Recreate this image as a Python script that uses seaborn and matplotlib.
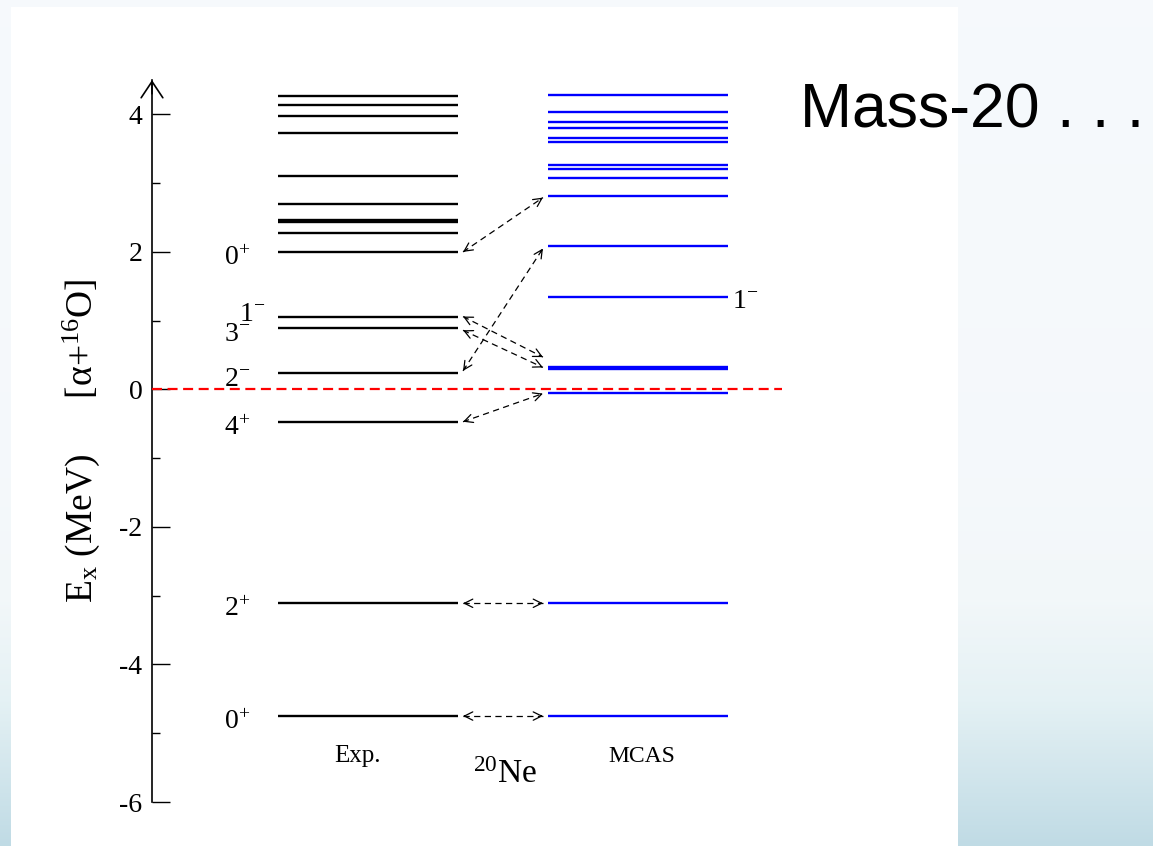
import numpy as np
import matplotlib
matplotlib.use('Agg')
import matplotlib.pyplot as plt
import seaborn as sns
from matplotlib.patches import Rectangle

# level energies (MeV, relative to the alpha + 16O threshold)
exp_levels = [-4.75, -3.11, -0.48, 0.24, 0.89, 1.05, 2.00, 2.27, 2.43, 2.46,
              2.69, 3.11, 3.73, 3.97, 4.13, 4.27]
mcas_levels = [-4.75, -3.11, -0.05, 0.30, 0.33, 1.34, 2.08, 2.82, 3.08, 3.20,
               3.26, 3.60, 3.66, 3.80, 3.89, 4.03, 4.28]

# spin-parity labels
exp_spins = ['0^{+}', '2^{+}', '4^{+}', '2^{-}', '3^{-}', '1^{-}', '0^{+}']
exp_spin_energies = [-4.75, -3.11, -0.48, 0.24, 0.89, 1.05, 2.00]
mcas_spins = ['1^{-}']
mcas_spin_energies = [1.34]

# correspondence arrows: exp end -> mcas end
link_exp = [2.00, 0.27, 1.06, 0.86, -0.47, -3.11, -4.75]
link_mcas = [2.79, 2.05, 0.47, 0.32, -0.06, -3.11, -4.75]

columns = ['Exp.', 'MCAS']
nucleus = '$^{20}$Ne'
yticks = [-6, -4, -2, 0, 2, 4]
ytick_labels = ['-6', '-4', '-2', '0', '2', '4']

sns.set_theme(style='ticks')
plt.rcParams['font.family'] = ['Liberation Serif', 'DejaVu Serif']
plt.rcParams['mathtext.fontset'] = 'custom'
plt.rcParams['mathtext.rm'] = 'Liberation Serif'
plt.rcParams['mathtext.it'] = 'Liberation Serif:italic'
plt.rcParams['mathtext.default'] = 'regular'
plt.rcParams['axes.unicode_minus'] = False
plt.rcParams['text.color'] = 'black'
plt.rcParams['axes.labelcolor'] = 'black'
plt.rcParams['ytick.color'] = 'black'

W, H = 1153, 846
fig = plt.figure(figsize=(W / 100, H / 100), dpi=100)

# slide background: pale blue gradient with a white panel
bg = fig.add_axes([0, 0, 1, 1], zorder=-2)
t = np.linspace(0, 1, 400)
stops = [0.0, 0.55, 0.71, 0.83, 1.0]
r = np.interp(t, stops, [0.965, 0.960, 0.950, 0.895, 0.753])
g = np.interp(t, stops, [0.980, 0.975, 0.970, 0.945, 0.859])
b = np.interp(t, stops, [0.990, 0.985, 0.978, 0.957, 0.898])
grad = np.stack([r, g, b], axis=1)[:, None, :].repeat(2, axis=1)
bg.imshow(grad, aspect='auto', extent=[0, 1, 0, 1], origin='upper')
bg.add_patch(Rectangle((11 / W, 0), 947 / W, 1 - 7 / H, facecolor='white',
                       edgecolor='none'))
bg.set_xlim(0, 1)
bg.set_ylim(0, 1)
bg.axis('off')

ax = fig.add_axes([152 / W, 1 - 802 / H, 630 / W, 722 / H])
ax.patch.set_alpha(0)
ax.set_xlim(0, 3.5)
ax.set_ylim(-6, 4.5)
sns.despine(ax=ax, bottom=True)
ax.spines['left'].set_linewidth(1.2)
ax.spines['left'].set_color('black')

ax.set_xticks([])
ax.set_yticks(yticks)
ax.set_yticklabels(ytick_labels)
ax.set_yticks(np.arange(-5, 5, 2), minor=True)
ax.tick_params(axis='y', which='major', direction='in', length=13, width=1,
               labelsize=20, pad=7, colors='black')
ax.tick_params(axis='y', which='minor', direction='in', length=6, width=1,
               colors='black')

# arrow head on top of the energy axis
ax.annotate('', xy=(0, 4.5), xytext=(0, 4.3),
            arrowprops=dict(arrowstyle='->,head_length=0.45,head_width=0.3',
                            lw=1.2, color='black', mutation_scale=26,
                            shrinkA=0, shrinkB=0), annotation_clip=False)

# levels
ax.hlines(exp_levels, 0.7, 1.7, color='black', lw=1.7)
ax.hlines(mcas_levels, 2.2, 3.2, color='blue', lw=1.7)

# threshold
ax.axhline(0, color='red', lw=1.6, ls=(0, (4.5, 2.5)), zorder=3)

# correspondence arrows
xa, xb = 1.728, 2.172
for e0, e1 in zip(link_exp, link_mcas):
    ax.plot([xa, xb], [e0, e1], color='black', lw=0.9, ls=(0, (5, 3.5)))
    for (x0, y0), (x1, y1) in [((xa, e0), (xb, e1)), ((xb, e1), (xa, e0))]:
        ax.annotate('', xy=(x0, y0),
                    xytext=(x0 + 0.03 * (x1 - x0), y0 + 0.03 * (y1 - y0)),
                    arrowprops=dict(arrowstyle='->', lw=0.9, color='black',
                                    mutation_scale=15, shrinkA=0, shrinkB=0))

# spin labels
for i, (s, e) in enumerate(zip(exp_spins, exp_spin_energies)):
    if i > 0 and e - exp_spin_energies[i - 1] < 0.3:
        ax.text(0.63, e - 0.05, '$' + s + '$', fontsize=20, ha='right',
                va='baseline')
    else:
        ax.text(0.546, e - 0.19, '$' + s + '$', fontsize=20, ha='right',
                va='baseline')
for s, e in zip(mcas_spins, mcas_spin_energies):
    ax.text(3.222, e - 0.15, '$' + s + '$', fontsize=20, ha='left',
            va='baseline')

# column names
ax.text(1.14, -5.42, columns[0], fontsize=18, ha='center', va='baseline')
ax.text(2.72, -5.42, columns[1], fontsize=17, ha='center', va='baseline')
ax.text(1.96, -5.73, nucleus, fontsize=24, ha='center', va='baseline')

ax.set_ylabel('E$_x$ (MeV)      [α+$^{16}$O]', fontsize=27)
ax.yaxis.set_label_coords(-0.08, 0.5)

fig.text(800 / W, 1 - 127 / H, 'Mass-20 . . .', fontsize=45,
         family='Liberation Sans', ha='left', va='baseline')

fig.savefig('out.png', dpi=100)
